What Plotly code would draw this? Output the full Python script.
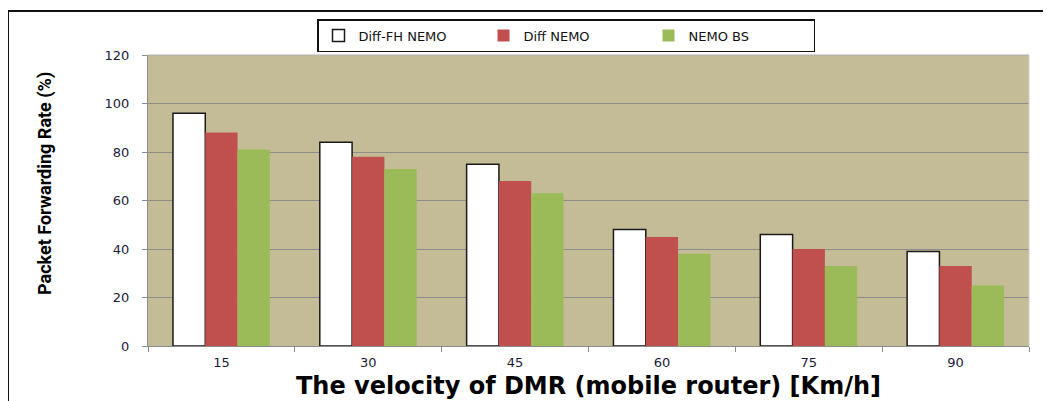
import plotly.graph_objects as go

categories = ["15", "30", "45", "60", "75", "90"]
diff_fh_nemo = [96, 84, 75, 48, 46, 39]
diff_nemo = [88, 78, 68, 45, 40, 33]
nemo_bs = [81, 73, 63, 38, 33, 25]
y_ticks = [0, 20, 40, 60, 80, 100, 120]

# page body has an 8px margin, so work in figure coordinates offset by 8
OFF = 8
W, H = 1051 - OFF, 401 - OFF
L, R, T, B = 148 - OFF, 22, 55 - OFF, 55
pw, ph = W - L - R, H - T - B

def px_x(x):  # screen x -> paper x
    return (x - OFF - L) / pw

def px_y(y):  # screen y -> paper y
    return (H - B - (y - OFF)) / ph

fig = go.Figure()
fig.add_trace(go.Bar(name="Diff-FH NEMO", x=categories, y=diff_fh_nemo,
                     marker=dict(color="white", line=dict(color="#1a1a1a", width=1.5))))
fig.add_trace(go.Bar(name="Diff NEMO", x=categories, y=diff_nemo,
                     marker=dict(color="#C0504D", line=dict(width=0))))
fig.add_trace(go.Bar(name="NEMO BS", x=categories, y=nemo_bs,
                     marker=dict(color="#9BBB59", line=dict(width=0))))

fig.update_layout(
    width=W, height=H,
    margin=dict(l=L, r=R, t=T, b=B, autoexpand=False),
    paper_bgcolor="white",
    plot_bgcolor="#C4BC97",
    barmode="group",
    bargap=0.34,
    bargroupgap=0,
    font=dict(family="DejaVu Sans", color="#1a1a2e"),
    legend=dict(
        orientation="h", x=px_x(566), xanchor="center", y=px_y(19), yanchor="top",
        bgcolor="white", bordercolor="#111", borderwidth=1.5,
        font=dict(family="DejaVu Sans", size=13, color="#111"),
        entrywidth=120, entrywidthmode="pixels",
        tracegroupgap=0,
    ),
    xaxis=dict(
        type="category", tickson="boundaries", ticks="outside", ticklen=5,
        tickcolor="#8c8c8c", showline=True, linecolor="#8c8c8c", linewidth=1,
        tickfont=dict(size=13, color="#1a1a3a"), ticklabelstandoff=4,
        title=dict(text="<b>The velocity of DMR (mobile router) [Km/h]</b>",
                   font=dict(family="DejaVu Sans", size=24, color="#000"), standoff=8),
        showgrid=False, mirror=False,
    ),
    yaxis=dict(
        range=[0, 120], tickvals=y_ticks, ticks="outside", ticklen=5,
        tickcolor="#8c8c8c", showline=True, linecolor="#8c8c8c", linewidth=1,
        showgrid=True, gridcolor="#8c8c8c", gridwidth=1,
        tickfont=dict(size=13, color="#1a1a3a"), ticklabelstandoff=10,
        zeroline=False,
    ),
    annotations=[
        dict(text="<b>Packet Forwarding Rate (%)</b>", textangle=-90,
             xref="paper", yref="paper", x=px_x(45), y=px_y(184),
             xanchor="center", yanchor="middle", showarrow=False,
             font=dict(family="Roboto", size=18, color="#000")),
    ],
    shapes=[
        dict(type="rect", xref="paper", yref="paper",
             x0=px_x(8), x1=px_x(1070), y0=px_y(420), y1=px_y(11),
             line=dict(color="#111", width=2), fillcolor="rgba(0,0,0,0)", layer="below"),
        dict(type="line", xref="paper", yref="paper", x0=0, x1=1, y0=1, y1=1,
             line=dict(color="#b0b0b0", width=1)),
        dict(type="line", xref="paper", yref="paper", x0=1, x1=1, y0=0, y1=1,
             line=dict(color="#d0d0d0", width=1)),
    ],
)

fig.write_html("out.html")
